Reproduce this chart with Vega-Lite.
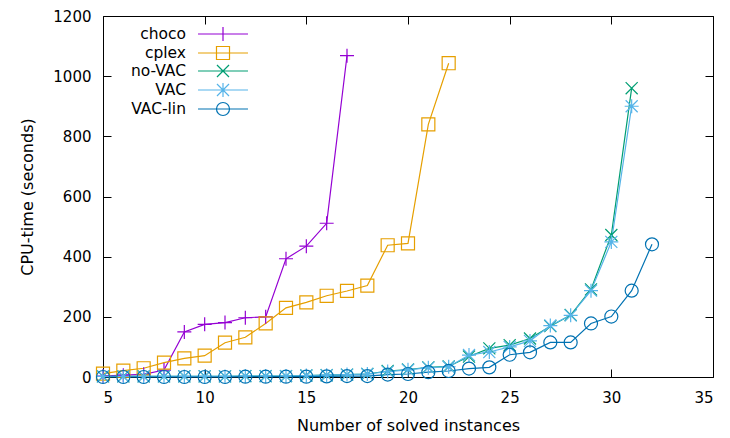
{
  "$schema": "https://vega.github.io/schema/vega-lite/v6.json",
  "width": 610,
  "height": 361,
  "autosize": {"type": "none"},
  "padding": {"left": 103, "top": 16, "right": 17, "bottom": 61},
  "background": "white",
  "config": {
    "font": "DejaVu Sans",
    "view": {"stroke": "black", "strokeWidth": 1},
    "axis": {"grid": false, "domain": false, "tickColor": "black", "labelColor": "black", "titleColor": "black", "labelFont": "DejaVu Sans", "titleFont": "DejaVu Sans", "labelFontSize": 15, "titleFontSize": 16, "titleFontWeight": "normal", "tickWidth": 1, "format": "d"},
    "legend": {"title": null, "orient": "none", "legendX": 112, "legendY": 10, "padding": 0,
      "symbolSize": 196, "symbolStrokeWidth": 1.2, "labelFont": "DejaVu Sans", "labelFontSize": 15.5, "labelColor": "black",
      "labelAlign": "right", "labelOffset": -45, "rowPadding": 0, "labelLimit": 200}
  },
  "data": {"values": [
    {"s":"choco","x":5,"y":3},{"s":"choco","x":6,"y":6},{"s":"choco","x":7,"y":9},{"s":"choco","x":8,"y":23},{"s":"choco","x":9,"y":150},{"s":"choco","x":10,"y":175},{"s":"choco","x":11,"y":181},{"s":"choco","x":12,"y":197},{"s":"choco","x":13,"y":200},{"s":"choco","x":14,"y":393},{"s":"choco","x":15,"y":435},{"s":"choco","x":16,"y":511},{"s":"choco","x":17,"y":1068},
    {"s":"cplex","x":5,"y":11},{"s":"cplex","x":6,"y":21},{"s":"cplex","x":7,"y":29},{"s":"cplex","x":8,"y":48},{"s":"cplex","x":9,"y":62},{"s":"cplex","x":10,"y":71},{"s":"cplex","x":11,"y":114},{"s":"cplex","x":12,"y":132},{"s":"cplex","x":13,"y":178},{"s":"cplex","x":14,"y":230},{"s":"cplex","x":15,"y":248},{"s":"cplex","x":16,"y":270},{"s":"cplex","x":17,"y":286},{"s":"cplex","x":18,"y":304},{"s":"cplex","x":19,"y":438},{"s":"cplex","x":20,"y":444},{"s":"cplex","x":21,"y":840},{"s":"cplex","x":22,"y":1043},
    {"s":"no-VAC","x":5,"y":2},{"s":"no-VAC","x":6,"y":2},{"s":"no-VAC","x":7,"y":2},{"s":"no-VAC","x":8,"y":2},{"s":"no-VAC","x":9,"y":2},{"s":"no-VAC","x":10,"y":2},{"s":"no-VAC","x":11,"y":2},{"s":"no-VAC","x":12,"y":3},{"s":"no-VAC","x":13,"y":3},{"s":"no-VAC","x":14,"y":3},{"s":"no-VAC","x":15,"y":5},{"s":"no-VAC","x":16,"y":6},{"s":"no-VAC","x":17,"y":8},{"s":"no-VAC","x":18,"y":10},{"s":"no-VAC","x":19,"y":20},{"s":"no-VAC","x":20,"y":25},{"s":"no-VAC","x":21,"y":32},{"s":"no-VAC","x":22,"y":35},{"s":"no-VAC","x":23,"y":68},{"s":"no-VAC","x":24,"y":95},{"s":"no-VAC","x":25,"y":106},{"s":"no-VAC","x":26,"y":128},{"s":"no-VAC","x":27,"y":169},{"s":"no-VAC","x":28,"y":206},{"s":"no-VAC","x":29,"y":291},{"s":"no-VAC","x":30,"y":472},{"s":"no-VAC","x":31,"y":960},
    {"s":"VAC","x":5,"y":2},{"s":"VAC","x":6,"y":2},{"s":"VAC","x":7,"y":2},{"s":"VAC","x":8,"y":2},{"s":"VAC","x":9,"y":2},{"s":"VAC","x":10,"y":2},{"s":"VAC","x":11,"y":2},{"s":"VAC","x":12,"y":3},{"s":"VAC","x":13,"y":3},{"s":"VAC","x":14,"y":3},{"s":"VAC","x":15,"y":5},{"s":"VAC","x":16,"y":6},{"s":"VAC","x":17,"y":8},{"s":"VAC","x":18,"y":10},{"s":"VAC","x":19,"y":18},{"s":"VAC","x":20,"y":24},{"s":"VAC","x":21,"y":31},{"s":"VAC","x":22,"y":34},{"s":"VAC","x":23,"y":73},{"s":"VAC","x":24,"y":83},{"s":"VAC","x":25,"y":100},{"s":"VAC","x":26,"y":120},{"s":"VAC","x":27,"y":171},{"s":"VAC","x":28,"y":205},{"s":"VAC","x":29,"y":287},{"s":"VAC","x":30,"y":449},{"s":"VAC","x":31,"y":900},
    {"s":"VAC-lin","x":5,"y":0},{"s":"VAC-lin","x":6,"y":0},{"s":"VAC-lin","x":7,"y":0},{"s":"VAC-lin","x":8,"y":0},{"s":"VAC-lin","x":9,"y":0},{"s":"VAC-lin","x":10,"y":0},{"s":"VAC-lin","x":11,"y":0},{"s":"VAC-lin","x":12,"y":1},{"s":"VAC-lin","x":13,"y":1},{"s":"VAC-lin","x":14,"y":1},{"s":"VAC-lin","x":15,"y":1},{"s":"VAC-lin","x":16,"y":2},{"s":"VAC-lin","x":17,"y":3},{"s":"VAC-lin","x":18,"y":3},{"s":"VAC-lin","x":19,"y":8},{"s":"VAC-lin","x":20,"y":10},{"s":"VAC-lin","x":21,"y":16},{"s":"VAC-lin","x":22,"y":20},{"s":"VAC-lin","x":23,"y":28},{"s":"VAC-lin","x":24,"y":32},{"s":"VAC-lin","x":25,"y":74},{"s":"VAC-lin","x":26,"y":82},{"s":"VAC-lin","x":27,"y":115},{"s":"VAC-lin","x":28,"y":115},{"s":"VAC-lin","x":29,"y":178},{"s":"VAC-lin","x":30,"y":201},{"s":"VAC-lin","x":31,"y":287},{"s":"VAC-lin","x":32,"y":441}
  ]},
  "resolve": {"axis": {"x": "independent", "y": "independent"}},
  "layer": [
    {
      "mark": {"type": "line", "strokeWidth": 1.2},
      "encoding": {
        "x": {"field": "x", "type": "quantitative", "scale": {"domain": [5, 35], "nice": false, "zero": false},
          "axis": {"orient": "bottom", "values": [5,10,15,20,25,30,35], "title": "Number of solved instances", "tickSize": -8, "labelPadding": 21, "titlePadding": 12}},
        "y": {"field": "y", "type": "quantitative", "scale": {"domain": [0, 1200], "nice": false},
          "axis": {"orient": "left", "values": [0,200,400,600,800,1000,1200], "title": "CPU-time (seconds)", "tickSize": -8, "labelPadding": 20, "titlePadding": 17}},
        "color": {"field": "s", "type": "nominal",
          "scale": {"domain": ["choco","cplex","no-VAC","VAC","VAC-lin"], "range": ["#9400d3","#e69f00","#009e73","#56b4e9","#0072b2"]}},
        "order": {"field": "x", "type": "quantitative"}
      }
    },
    {
      "mark": {"type": "point", "filled": false, "strokeWidth": 1.2, "size": 196, "opacity": 1},
      "encoding": {
        "x": {"field": "x", "type": "quantitative",
          "axis": {"orient": "top", "values": [5,10,15,20,25,30,35], "labels": false, "title": null, "tickSize": -8}},
        "y": {"field": "y", "type": "quantitative",
          "axis": {"orient": "right", "values": [0,200,400,600,800,1000,1200], "labels": false, "title": null, "tickSize": -8}},
        "color": {"field": "s", "type": "nominal",
          "legend": {
            "symbolType": {"expr": "datum.value === 'choco' ? 'M-3.57,0L3.57,0M0,-1L0,1' : datum.value === 'cplex' ? 'M-3.57,0L3.57,0M-0.93,-0.93H0.93V0.93H-0.93Z' : datum.value === 'no-VAC' ? 'M-3.57,0L3.57,0M-0.86,-0.86L0.86,0.86M-0.86,0.86L0.86,-0.86' : datum.value === 'VAC' ? 'M-3.57,0L3.57,0M0,-1L0,1M-0.86,-0.86L0.86,0.86M-0.86,0.86L0.86,-0.86' : 'M-3.57,0L3.57,0M0.93,0A0.93,0.93 0 1,1 -0.93,0A0.93,0.93 0 1,1 0.93,0Z'"},
            "encode": {"symbols": {
              "fill": {"value": "transparent"},
              "shape": {"value": {"expr": "datum.value === 'choco' ? 'M-3.57,0L3.57,0M0,-1L0,1' : datum.value === 'cplex' ? 'M-3.57,0L3.57,0M-0.93,-0.93H0.93V0.93H-0.93Z' : datum.value === 'no-VAC' ? 'M-3.57,0L3.57,0M-0.86,-0.86L0.86,0.86M-0.86,0.86L0.86,-0.86' : datum.value === 'VAC' ? 'M-3.57,0L3.57,0M0,-1L0,1M-0.86,-0.86L0.86,0.86M-0.86,0.86L0.86,-0.86' : 'M-3.57,0L3.57,0M0.93,0A0.93,0.93 0 1,1 -0.93,0A0.93,0.93 0 1,1 0.93,0Z'"}}
            }}
          }},
        "shape": {
          "condition": [
            {"test": "datum.s === 'choco'", "value": "M-1,0L1,0M0,-1L0,1"},
            {"test": "datum.s === 'cplex'", "value": "M-0.93,-0.93H0.93V0.93H-0.93Z"},
            {"test": "datum.s === 'no-VAC'", "value": "M-0.86,-0.86L0.86,0.86M-0.86,0.86L0.86,-0.86"},
            {"test": "datum.s === 'VAC'", "value": "M-1,0L1,0M0,-1L0,1M-0.86,-0.86L0.86,0.86M-0.86,0.86L0.86,-0.86"}
          ],
          "value": "M0.93,0A0.93,0.93 0 1,1 -0.93,0A0.93,0.93 0 1,1 0.93,0Z"
        }
      }
    }
  ]
}
